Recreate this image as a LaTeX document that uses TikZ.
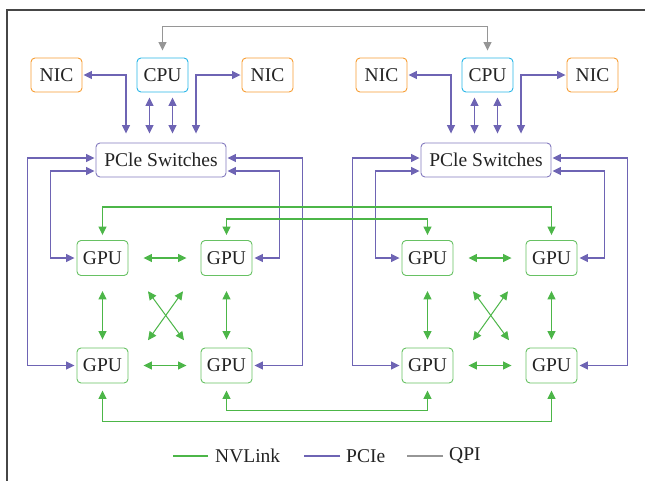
\documentclass[tikz,border=0pt]{standalone}
\usepackage{fontspec}
\setmainfont{Liberation Serif}
\usetikzlibrary{arrows.meta,calc}
\definecolor{nvg}{RGB}{76,182,72}
\definecolor{pcp}{RGB}{110,100,180}
\definecolor{qpig}{RGB}{150,150,150}
\definecolor{nicor}{RGB}{247,158,52}
\definecolor{cpuc}{RGB}{40,182,232}
\definecolor{txt}{RGB}{35,35,35}
\definecolor{framec}{RGB}{70,70,70}
\begin{document}
\begin{tikzpicture}[x=1pt,y=-1pt,
  >={Triangle[length=8.5pt,width=8pt]},
  box/.style={draw,rounded corners=4pt,line width=0.9pt,inner sep=0pt,text=txt,font=\fontsize{19.5}{22}\selectfont,minimum height=34pt},
  nicbox/.style={box,draw=nicor,minimum width=51pt},
  cpubox/.style={box,draw=cpuc,minimum width=51pt},
  swbox/.style={box,draw=pcp!85,minimum width=130pt},
  gpubox/.style={box,draw=nvg!85,minimum width=51pt,minimum height=35pt},
  nvl/.style={draw=nvg,line width=1.2pt},
  pci/.style={draw=pcp,line width=1.2pt},
  qpil/.style={draw=qpig,line width=1.2pt},
  legtext/.style={anchor=west,inner sep=0pt,text=txt,font=\fontsize{19.5}{22}\selectfont},
]
\useasboundingbox (0,0) rectangle (645,480);
\fill[white] (0,0) rectangle (645,480);
\draw[framec,line width=1.5pt] (646,10) -- (7,10) -- (7,481);

\foreach \p/\o in {L/0,R/325}{
  \node[nicbox] (\p nic1) at ({56.5+\o},75) {NIC};
  \node[cpubox] (\p cpu) at ({162.5+\o},75) {CPU};
  \node[nicbox] (\p nic2) at ({267.5+\o},75) {NIC};
  \node[swbox] (\p pci) at ({161+\o},160) {PCle Switches};
  \node[gpubox] (\p g1) at ({102.5+\o},258) {GPU};
  \node[gpubox] (\p g2) at ({226.5+\o},258) {GPU};
  \node[gpubox] (\p g3) at ({102.5+\o},365.5) {GPU};
  \node[gpubox] (\p g4) at ({226.5+\o},365.5) {GPU};
  % switch <-> NICs
  \draw[pci,<->,shorten <=9pt,shorten >=1pt] ([xshift=-35pt]\p pci.north) |- (\p nic1.east);
  \draw[pci,<->,shorten <=9pt,shorten >=1pt] ([xshift=35pt]\p pci.north) |- (\p nic2.west);
  % switch <-> CPU
  \draw[pci,<->,shorten <=9pt,shorten >=5pt] ([xshift=-11.5pt]\p pci.north) -- ([xshift=-11.5pt]\p pci.north |- \p cpu.south);
  \draw[pci,<->,shorten <=9pt,shorten >=5pt] ([xshift=11.5pt]\p pci.north) -- ([xshift=11.5pt]\p pci.north |- \p cpu.south);
  % switch <-> GPUs
  \draw[pci,<->,shorten <=1pt,shorten >=2pt] ([yshift=2pt]\p pci.west) -- ++(-68,0) |- (\p g3.west);
  \draw[pci,<->,shorten <=1pt,shorten >=2pt] ([yshift=-11pt]\p pci.west) -- ++(-45,0) |- (\p g1.west);
  \draw[pci,<->,shorten <=1pt,shorten >=2pt] ([yshift=2pt]\p pci.east) -- ++(76,0) |- (\p g4.east);
  \draw[pci,<->,shorten <=1pt,shorten >=2pt] ([yshift=-11pt]\p pci.east) -- ++(53,0) |- (\p g2.east);
  % NVLink inside group
  \draw[nvl,<->,shorten <=15pt,shorten >=14pt] (\p g1.east) -- (\p g2.west);
  \draw[nvl,<->,shorten <=15pt,shorten >=14pt] (\p g3.east) -- (\p g4.west);
  \draw[nvl,<->,shorten <=15pt,shorten >=8pt] (\p g1.south) -- (\p g3.north);
  \draw[nvl,<->,shorten <=15pt,shorten >=8pt] (\p g2.south) -- (\p g4.north);
  \coordinate (\p c) at ($(\p g1)!0.5!(\p g4)$);
  \draw[nvl,<->,line width=1pt] ($(\p c)+(-16.5,-20.5)$) -- ($(\p c)+(19.5,28.5)$);
  \draw[nvl,<->,line width=1pt] ($(\p c)+(18.5,-20.5)$) -- ($(\p c)+(-16.5,28.5)$);
}

% QPI
\draw[qpil,<->,shorten <=7pt,shorten >=7pt] (Lcpu.north) -- ++(0,-31) -| (Rcpu.north);

% NVLink between groups
\draw[nvl,<->,shorten <=5pt,shorten >=5pt] (Lg1.north) -- ++(0,-33) -| (Rg2.north);
\draw[nvl,<->,shorten <=5pt,shorten >=5pt] (Lg2.north) -- ++(0,-21) -| (Rg1.north);
\draw[nvl,<->,shorten <=7pt,shorten >=7pt] (Lg3.south) -- ++(0,38) -| (Rg4.south);
\draw[nvl,<->,shorten <=7pt,shorten >=7pt] (Lg4.south) -- ++(0,27) -| (Rg3.south);

% legend
\node[legtext] (t1) at (215,456) {NVLink};
\node[legtext] (t2) at (346,456) {PCIe};
\node[legtext] (t3) at (449,456) {QPI};
\draw[draw=nvg,line width=1.4pt] ([xshift=-7pt]t1.west) -- ++(-35,0);
\draw[draw=pcp,line width=1.4pt] ([xshift=-6pt]t2.west) -- ++(-36,0);
\draw[draw=qpig,line width=1.4pt] ([xshift=-6pt]t3.west) -- ++(-36,0);
\end{tikzpicture}
\end{document}
